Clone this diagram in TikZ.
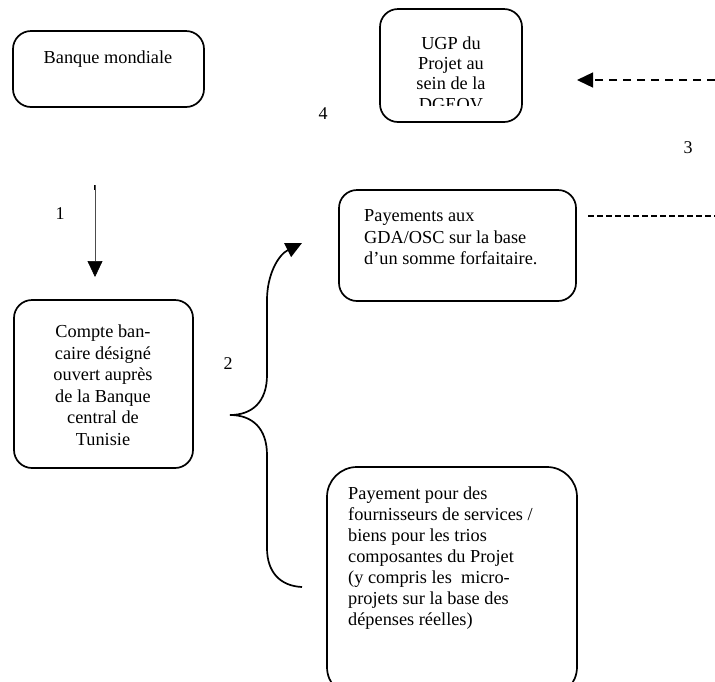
\documentclass[tikz,border=0pt]{standalone}
\usepackage{fontspec}
\setmainfont{Liberation Serif}
\usetikzlibrary{arrows.meta}
\begin{document}
\begin{tikzpicture}[x=1pt,y=-1pt,
  box/.style={draw,line width=1.7pt,rounded corners=18pt,inner sep=0pt},
  txt/.style={font=\fontsize{18.3}{21.5}\selectfont,inner sep=0pt},
  lbl/.style={font=\fontsize{18}{21}\selectfont,inner sep=0pt,anchor=base},
  bigtip/.style={-{Triangle[length=16pt,width=15pt]}}]
\useasboundingbox (0,0) rectangle (715,681);
\fill[white] (0,0) rectangle (715,681);
% boxes
\node[box,minimum width=191pt,minimum height=76pt] (bm) at (108.5,69) {};
\node[box,minimum width=142pt,minimum height=113pt] (ugp) at (451,65.5) {};
\node[box,minimum width=237pt,minimum height=111pt] (pay) at (457.5,245.5) {};
\node[box,minimum width=179pt,minimum height=168pt] (cpt) at (103.5,384) {};
\begin{scope}
\clip (0,0) rectangle (715,681);
\node[box,rounded corners=30pt,minimum width=250pt,minimum height=230pt] (four) at (452,582) {};
\end{scope}
% texts
\node[txt,anchor=north] (bmt) at (108,50.5) {Banque mondiale};
\begin{scope}
\clip (380,10) rectangle (522,105.5);
\node[txt,anchor=north,align=center,font=\fontsize{18.3}{20.4}\selectfont] (ugpt) at (451,36.2) {UGP du\\Projet au\\sein de la\\DGEOV};
\end{scope}
\node[txt,anchor=north west,align=left,font=\fontsize{18.3}{21.7}\selectfont] (payt) at (364,209.2) {Payements aux\\GDA/OSC sur la base\\d’un somme forfaitaire.};
\node[txt,anchor=north,align=center] (cptt) at (103,324.7) {Compte ban-\\caire désigné\\ouvert auprès\\de la Banque\\central de\\Tunisie};
\node[txt,anchor=north west,align=left,font=\fontsize{18.3}{21}\selectfont] (fourt) at (348,486.7) {Payement pour des\\fournisseurs de services /\\biens pour les trios\\composantes du Projet\\(y compris les \ micro-\\projets sur la base des\\dépenses réelles)};
% labels
\node[lbl] (l1) at (60,219) {1};
\node[lbl] (l2) at (228,369) {2};
\node[lbl] (l3) at (688,153) {3};
\node[lbl] (l4) at (323,119) {4};
% arrow 1
\coordinate (a1s) at (95,185);
\coordinate (a1e) at (95,277);
\draw[line width=1.4pt] (a1s) -- ++(0,5);
\draw[line width=0.6pt,black!70,-{Triangle[length=16pt,width=15pt,black]}] (a1s) -- (a1e);
% dashed arrow 3
\coordinate (d1s) at (715,80);
\coordinate (d1e) at (577,80);
\draw[line width=1.3pt,dash pattern=on 8pt off 6pt,bigtip] (d1s) -- (d1e);
% dashed line
\coordinate (d2s) at (588,216);
\coordinate (d2e) at (715,216);
\draw[line width=1.3pt,dash pattern=on 6pt off 3pt] (d2s) -- (d2e);
% brace
\coordinate (btip) at (230,415);
\coordinate (bup) at (302,243);
\coordinate (blo) at (302,587);
\draw[line width=1.7pt,bigtip] (blo) .. controls (280,586) and (267,572) .. (267,548)
  -- (267,455) .. controls (267,428) and (252,415) .. (btip)
  .. controls (252,415) and (267,402) .. (267,375)
  -- (267,300) .. controls (267,275) and (278,255) .. (bup);
\end{tikzpicture}
\end{document}
